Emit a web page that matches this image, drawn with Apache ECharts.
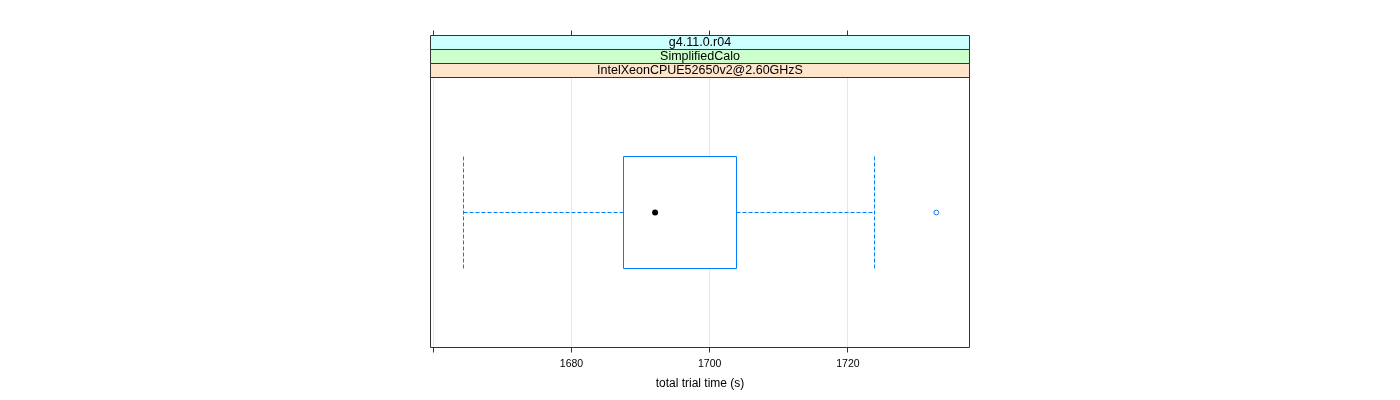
<!DOCTYPE html>
<html>
<head>
<meta charset="utf-8">
<script src="https://cdn.jsdelivr.net/npm/echarts@6/dist/echarts.min.js"></script>
<style>
html,body{margin:0;padding:0;background:#fff;}
#chart{width:1400px;height:400px;}
</style>
</head>
<body>
<div id="chart"></div>
<script>
// ---- data ----
var stripLabels = ['g4.11.0.r04', 'SimplifiedCalo', 'IntelXeonCPUE52650v2@2.60GHzS'];
var categories = [''];
// [lower whisker, Q1, median, Q3, upper whisker]
var boxStats = [[1664.4, 1687.5, 1692.1, 1703.9, 1723.8]];
var outliers = [[1732.8, 0]];
var tickValues = [1660, 1680, 1700, 1720];
var labelValues = [1680, 1700, 1720];
var xMin = 1659.6, xMax = 1737.6;

// ---- styles ----
var FONT = 'Liberation Sans, Arial, Helvetica, sans-serif';
var BLUE = '#0080ff';
var stripFill = ['#ccffff', '#ccffcc', '#ffe5cc'];
var BORDER = '#333333';
var GRIDLINE = '#e6e6e6';
var TICK_LEN = 5;

var chart = echarts.init(document.getElementById('chart'), null, {renderer: 'canvas'});

var boxData = boxStats.map(function (s, i) { return s.concat([i]); });
var tickData = tickValues.map(function (v) { return [v, 0]; });

function crisp(v) { return Math.round(v - 0.5) + 0.5; }

// mode: 'up' tick above grid, 'down' tick below grid top, 'grid' full-height gridline
function tickSeries(xi, yi, mode) {
  return {
    type: 'custom', xAxisIndex: xi, yAxisIndex: yi, data: tickData, clip: false, silent: true,
    z: mode === 'grid' ? 1 : 6,
    renderItem: function (params, api) {
      var cs = params.coordSys;
      var x = crisp(api.coord([api.value(0), api.value(1)])[0]);
      var y0, y1, color = BORDER;
      if (mode === 'grid') { y0 = cs.y + 0.5; y1 = cs.y + cs.height - 0.5; color = GRIDLINE; }
      else if (mode === 'up') { y0 = cs.y; y1 = cs.y - TICK_LEN; }
      else { y0 = cs.y; y1 = cs.y + TICK_LEN; }
      return {type: 'line', shape: {x1: x, y1: y0, x2: x, y2: y1}, style: {stroke: color, lineWidth: 1}};
    }
  };
}

var option = {
  animation: false,
  backgroundColor: '#ffffff',
  grid: [
    {left: 430.5, width: 539, top: 77.5, height: 270, show: false},
    {left: 430.5, width: 539, top: 35.5, height: 42, show: false},
    {left: 430.5, width: 539, top: 347.5, height: 5, show: false}
  ],
  xAxis: [
    {
      gridIndex: 0, type: 'value', min: xMin, max: xMax, position: 'bottom',
      axisLine: {show: false},
      axisTick: {show: false},
      axisLabel: {show: true, customValues: labelValues, fontSize: 10.5, color: '#000', fontFamily: FONT, margin: 11,
        formatter: function (v) { return String(v); }},
      splitLine: {show: false},
      name: 'total trial time (s)', nameLocation: 'middle', nameGap: 30,
      nameTextStyle: {fontSize: 12, color: '#000', fontFamily: FONT}
    },
    {gridIndex: 1, type: 'value', min: xMin, max: xMax, position: 'top', show: false},
    {gridIndex: 2, type: 'value', min: xMin, max: xMax, position: 'bottom', show: false}
  ],
  yAxis: [
    {gridIndex: 0, type: 'category', data: categories, axisLine: {show: false}, axisTick: {show: false}, axisLabel: {show: false}, splitLine: {show: false}},
    {gridIndex: 1, type: 'value', min: 0, max: 1, show: false},
    {gridIndex: 2, type: 'value', min: 0, max: 1, show: false}
  ],
  series: [
    {
      type: 'custom', xAxisIndex: 1, yAxisIndex: 1,
      data: stripLabels.map(function (l, i) { return [xMin, i]; }),
      renderItem: function (params, api) {
        var cs = params.coordSys;
        var i = params.dataIndex;
        var h = cs.height / stripLabels.length;
        return {
          type: 'rect',
          shape: {x: cs.x, y: cs.y + i * h, width: cs.width, height: h},
          style: {fill: stripFill[i], stroke: BORDER, lineWidth: 1},
          textContent: {
            style: {text: stripLabels[i], fill: '#000', fontSize: 12.5, fontFamily: FONT}
          },
          textConfig: {position: 'inside'}
        };
      },
      silent: true, z: 5
    },
    {
      // panel border
      type: 'custom', xAxisIndex: 0, yAxisIndex: 0, data: [[xMin, 0]], clip: false, silent: true, z: 7,
      renderItem: function (params, api) {
        var cs = params.coordSys;
        return {type: 'rect', shape: {x: cs.x, y: cs.y, width: cs.width, height: cs.height},
          style: {fill: null, stroke: BORDER, lineWidth: 1}};
      }
    },
    tickSeries(0, 0, 'grid'),
    tickSeries(2, 2, 'down'),
    tickSeries(1, 1, 'up'),
    {
      type: 'custom', xAxisIndex: 0, yAxisIndex: 0,
      data: boxData,
      encode: {x: [0, 1, 2, 3, 4], y: 5},
      renderItem: function (params, api) {
        var cat = api.value(5);
        var band = api.size([0, 1])[1];
        var hh = Math.round(band * 0.2085);
        var pLo = api.coord([api.value(0), cat]);
        var pQ1 = api.coord([api.value(1), cat]);
        var pMed = api.coord([api.value(2), cat]);
        var pQ3 = api.coord([api.value(3), cat]);
        var pHi = api.coord([api.value(4), cat]);
        var y = crisp(pMed[1]);
        var xLo = crisp(pLo[0]), xQ1 = crisp(pQ1[0]), xQ3 = crisp(pQ3[0]), xHi = crisp(pHi[0]);
        var dash = {stroke: BLUE, lineWidth: 1, lineDash: [4, 2], fill: null};
        return {
          type: 'group',
          children: [
            {type: 'line', shape: {x1: xLo, y1: y, x2: xQ1, y2: y}, style: dash},
            {type: 'line', shape: {x1: xQ3, y1: y, x2: xHi, y2: y}, style: dash},
            {type: 'line', shape: {x1: xLo, y1: y - hh, x2: xLo, y2: y + hh}, style: dash},
            {type: 'line', shape: {x1: xHi, y1: y - hh, x2: xHi, y2: y + hh}, style: dash},
            {type: 'rect', shape: {x: xQ1, y: y - hh, width: xQ3 - xQ1, height: 2 * hh},
              style: {stroke: BLUE, lineWidth: 1, fill: '#ffffff'}},
            {type: 'circle', shape: {cx: pMed[0], cy: y, r: 3}, style: {fill: '#000'}}
          ]
        };
      },
      silent: true, z: 3
    },
    {
      type: 'custom', xAxisIndex: 0, yAxisIndex: 0,
      data: outliers, clip: false, silent: true, z: 4,
      renderItem: function (params, api) {
        var p = api.coord([api.value(0), api.value(1)]);
        return {type: 'circle', shape: {cx: p[0], cy: crisp(p[1]), r: 2.4},
          style: {fill: null, stroke: BLUE, lineWidth: 1}};
      }
    }
  ]
};
chart.setOption(option);
</script>
</body>
</html>
